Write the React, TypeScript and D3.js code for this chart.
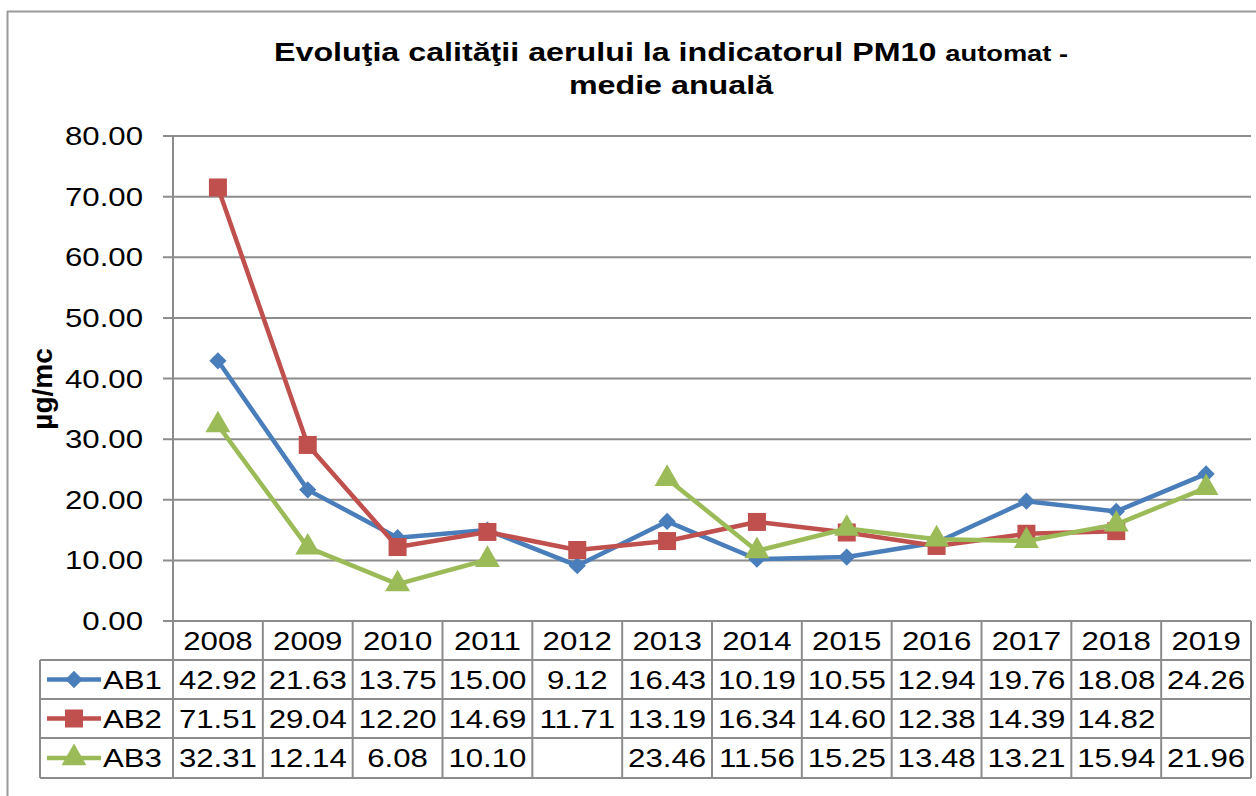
import * as d3 from 'd3';

const years = ['2008', '2009', '2010', '2011', '2012', '2013', '2014', '2015', '2016', '2017', '2018', '2019'];
const ab1: (number | null)[] = [42.92, 21.63, 13.75, 15.0, 9.12, 16.43, 10.19, 10.55, 12.94, 19.76, 18.08, 24.26];
const ab2: (number | null)[] = [71.51, 29.04, 12.2, 14.69, 11.71, 13.19, 16.34, 14.6, 12.38, 14.39, 14.82, null];
const ab3: (number | null)[] = [32.31, 12.14, 6.08, 10.1, null, 23.46, 11.56, 15.25, 13.48, 13.21, 15.94, 21.96];
const yTicks = [0, 10, 20, 30, 40, 50, 60, 70, 80];

const series = [
  { name: 'AB1', values: ab1, color: '#4A7EBB', marker: 'diamond' },
  { name: 'AB2', values: ab2, color: '#C0504D', marker: 'square' },
  { name: 'AB3', values: ab3, color: '#9BBB59', marker: 'triangle' },
];

const FONT = '"Liberation Sans", Arial, sans-serif';
const GRID = '#8c8c8c';
const SX = 1.2;

function Marker({ type, x, y, color }: { type: string; x: number; y: number; color: string }) {
  if (type === 'diamond') {
    const s = d3.symbol(d3.symbolDiamond2, 190)();
    return <path d={s ?? ''} transform={`translate(${x},${y})`} fill={color} />;
  }
  if (type === 'square') {
    return <rect x={x - 9} y={y - 9} width={18} height={18} fill={color} />;
  }
  const t = d3.symbol(d3.symbolTriangle, 270)();
  return <path d={t ?? ''} transform={`translate(${x},${y})`} fill={color} />;
}

function SText({ x, y, anchor = 'middle', size = 26, children, weight = 'normal', sx = SX }: any) {
  return (
    <text
      transform={`translate(${x},${y}) scale(${sx},1)`}
      textAnchor={anchor}
      fontSize={size}
      fontFamily={FONT}
      fontWeight={weight}
      fill="#000"
    >
      {children}
    </text>
  );
}

export default function App() {
  const width = 1256;
  const height = 796;
  const plotLeft = 173;
  const plotRight = 1251;
  const plotTop = 136;
  const plotBottom = 621;

  const x = d3.scaleBand().domain(years).range([plotLeft, plotRight]).padding(0);
  const cx = (yr: string) => (x(yr) ?? 0) + x.bandwidth() / 2;
  const y = d3.scaleLinear().domain([0, 80]).range([plotBottom, plotTop]);

  const rowTops = [plotBottom, 660, 699, 738, 778];
  const legendLeft = 40;

  return (
    <svg width={width} height={height} style={{ position: 'absolute', left: 0, top: 0, background: '#fff' }}>
      <rect x={0} y={0} width={width} height={height} fill="#fff" />
      {/* outer frame */}
      <line x1={7} x2={width} y1={11.5} y2={11.5} stroke="#999" strokeWidth={2} />
      <line x1={7.5} x2={7.5} y1={11} y2={height} stroke="#999" strokeWidth={2} />

      {/* title */}
      <text
        transform="translate(671,61) scale(1.24,1)"
        textAnchor="middle"
        fontFamily={FONT}
        fontWeight="bold"
        fontSize={26}
      >
        <tspan>Evoluţia calităţii aerului la indicatorul PM10 </tspan>
        <tspan fontSize={22}>automat -</tspan>
      </text>
      <text
        transform="translate(671,94) scale(1.24,1)"
        textAnchor="middle"
        fontFamily={FONT}
        fontWeight="bold"
        fontSize={26}
      >
        medie anuală
      </text>

      {/* y axis title */}
      <text
        transform="translate(52,389) rotate(-90)"
        textAnchor="middle"
        fontFamily={FONT}
        fontWeight="bold"
        fontSize={28}
      >
        µg/mc
      </text>

      {/* gridlines + ticks */}
      {yTicks.map((t) => (
        <g key={t}>
          <line x1={163} x2={plotRight} y1={y(t)} y2={y(t)} stroke={GRID} strokeWidth={2} />
          <SText x={143} y={y(t) + 9} anchor="end">
            {t.toFixed(2)}
          </SText>
        </g>
      ))}
      <line x1={plotLeft} x2={plotLeft} y1={plotTop} y2={rowTops[4]} stroke={GRID} strokeWidth={2} />

      {/* series */}
      {series.map((s) => {
        const pts = years.map((yr, i) => ({ yr, v: s.values[i] }));
        const line = d3
          .line<{ yr: string; v: number | null }>()
          .defined((d) => d.v !== null)
          .x((d) => cx(d.yr))
          .y((d) => y(d.v as number));
        return (
          <g key={s.name}>
            <path d={line(pts) ?? ''} fill="none" stroke={s.color} strokeWidth={4.5} strokeLinejoin="round" />
            {pts
              .filter((d) => d.v !== null)
              .map((d) => (
                <Marker key={d.yr} type={s.marker} x={cx(d.yr)} y={y(d.v as number)} color={s.color} />
              ))}
          </g>
        );
      })}

      {/* data table */}
      <g>
        {rowTops.slice(1).map((ry) => (
          <line key={ry} x1={legendLeft} x2={plotRight} y1={ry} y2={ry} stroke={GRID} strokeWidth={2} />
        ))}
        <line x1={legendLeft} x2={legendLeft} y1={rowTops[1]} y2={rowTops[4]} stroke={GRID} strokeWidth={2} />
        {years.map((yr) => (
          <line
            key={yr}
            x1={(x(yr) ?? 0) + x.bandwidth()}
            x2={(x(yr) ?? 0) + x.bandwidth()}
            y1={plotBottom}
            y2={rowTops[4]}
            stroke={GRID}
            strokeWidth={2}
          />
        ))}
        {years.map((yr) => (
          <SText key={yr} x={cx(yr)} y={rowTops[0] + 29}>
            {yr}
          </SText>
        ))}
        {series.map((s, si) => {
          const top = rowTops[si + 1];
          const mid = (top + rowTops[si + 2]) / 2;
          return (
            <g key={s.name}>
              <line x1={47} x2={101} y1={mid} y2={mid} stroke={s.color} strokeWidth={4.5} />
              <Marker type={s.marker} x={74} y={mid} color={s.color} />
              <SText x={103} y={mid + 9} anchor="start">
                {s.name}
              </SText>
              {years.map((yr, i) => (
                <SText key={yr} x={cx(yr)} y={mid + 9}>
                  {s.values[i] === null ? '' : (s.values[i] as number).toFixed(2)}
                </SText>
              ))}
            </g>
          );
        })}
      </g>
    </svg>
  );
}
